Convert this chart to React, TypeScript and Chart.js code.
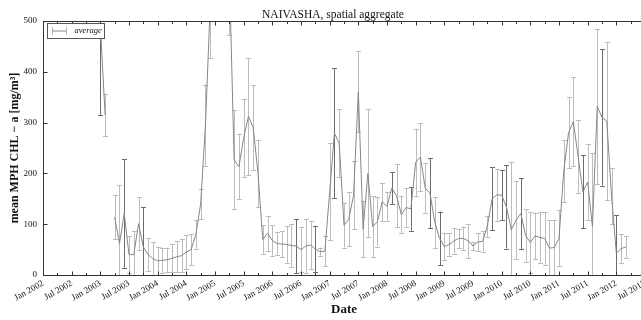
import { useEffect, useRef } from 'react';
import { Chart, registerables } from 'chart.js';

Chart.register(...registerables);

const FONT = '"Liberation Serif", "DejaVu Serif", "Times New Roman", serif';

// Monthly sample dates (one per month, Jan 2003 .. Mar 2012)
const sampleDates = [
  '2003-01', '2003-02', '2003-03', '2003-04', '2003-05', '2003-06', '2003-07', '2003-08', '2003-09', '2003-10', '2003-11', '2003-12',
  '2004-01', '2004-02', '2004-03', '2004-04', '2004-05', '2004-06', '2004-07', '2004-08', '2004-09', '2004-10', '2004-11', '2004-12',
  '2005-01', '2005-02', '2005-03', '2005-04', '2005-05', '2005-06', '2005-07', '2005-08', '2005-09', '2005-10', '2005-11', '2005-12',
  '2006-01', '2006-02', '2006-03', '2006-04', '2006-05', '2006-06', '2006-07', '2006-08', '2006-09', '2006-10', '2006-11', '2006-12',
  '2007-01', '2007-02', '2007-03', '2007-04', '2007-05', '2007-06', '2007-07', '2007-08', '2007-09', '2007-10', '2007-11', '2007-12',
  '2008-01', '2008-02', '2008-03', '2008-04', '2008-05', '2008-06', '2008-07', '2008-08', '2008-09', '2008-10', '2008-11', '2008-12',
  '2009-01', '2009-02', '2009-03', '2009-04', '2009-05', '2009-06', '2009-07', '2009-08', '2009-09', '2009-10', '2009-11', '2009-12',
  '2010-01', '2010-02', '2010-03', '2010-04', '2010-05', '2010-06', '2010-07', '2010-08', '2010-09', '2010-10', '2010-11', '2010-12',
  '2011-01', '2011-02', '2011-03', '2011-04', '2011-05', '2011-06', '2011-07', '2011-08', '2011-09', '2011-10', '2011-11', '2011-12',
  '2012-01', '2012-02', '2012-03',
];

// mean MPH CHL-a (mg/m^3), spatial average
const meanChl: (number | null)[] = [
  492, 315, null, 114, 62, 121, 40, 40, 101, 55, 40, 32,
  28, 29, 30, 33, 36, 38, 45, 50, 80, 140, 295, 530,
  650, 700, 620, 600, 227, 213, 270, 312, 290, 200, 70, 82,
  68, 62, 61, 60, 58, 57, 50, 57, 59, 51, 46, 47,
  164, 279, 259, 98, 110, 157, 361, 90, 200, 95, 105, 144,
  135, 171, 156, 119, 133, 130, 222, 232, 171, 161, 104, 72,
  56, 60, 67, 72, 72, 67, 57, 65, 66, 96, 150, 158,
  157, 134, 89, 108, 121, 78, 64, 77, 74, 72, 53, 54,
  72, 205, 280, 302, 233, 164, 183, 95, 332, 310, 303, 155,
  43, 52, 55,
];

// error (± standard deviation)
const chlErr: (number | null)[] = [
  177, 42, null, 44, 115, 107, 36, 46, 52, 79, 33, 33,
  28, 25, 24, 28, 30, 32, 33, 30, 28, 30, 80, 103,
  120, 120, 120, 128, 98, 64, 77, 115, 84, 66, 28, 35,
  30, 23, 26, 36, 43, 53, 44, 54, 48, 46, 8, 30,
  95, 128, 67, 44, 53, 67, 80, 55, 126, 60, 49, 37,
  28, 31, 62, 37, 38, 43, 66, 67, 49, 69, 50, 53,
  27, 22, 25, 18, 23, 33, 8, 18, 20, 21, 62, 51,
  49, 82, 134, 77, 70, 52, 60, 46, 50, 52, 55, 55,
  55, 61, 70, 88, 72, 72, 74, 145, 153, 134, 155, 55,
  75, 28, 21,
];

// error bars drawn in the darker shade
const darkBarDates = [
  '2003-01', '2003-06', '2003-10', '2006-06', '2006-10', '2007-02', '2008-02', '2008-06',
  '2008-10', '2008-12', '2009-11', '2010-01', '2010-02', '2010-05', '2011-06', '2011-10', '2012-01',
];

const tickLabels = [
  'Jan 2002', 'Jul 2002', 'Jan 2003', 'Jul 2003', 'Jan 2004', 'Jul 2004', 'Jan 2005', 'Jul 2005',
  'Jan 2006', 'Jul 2006', 'Jan 2007', 'Jul 2007', 'Jan 2008', 'Jul 2008', 'Jan 2009', 'Jul 2009',
  'Jan 2010', 'Jul 2010', 'Jan 2011', 'Jul 2011', 'Jan 2012', 'Jul 2012',
];

const yTicks = [0, 100, 200, 300, 400, 500];

const BASE_YEAR = 2002;
const toMonth = (d: string) => {
  const [y, m] = d.split('-').map(Number);
  return (y - BASE_YEAR) * 12 + (m - 1);
};

const X_MAX = (tickLabels.length - 1) * 6;
const xTickValues: number[] = [];
for (let v = 0; v <= X_MAX; v += 3) xTickValues.push(v);

const LINE_COLOR = '#868686';
const BAR_LIGHT = '#bcbcbc';
const BAR_DARK = '#6c6c6c';
const AXIS_COLOR = '#333333';
const TEXT_COLOR = '#111111';

const errorBarPlugin = {
  id: 'errorBars',
  beforeDatasetsDraw(chart: any) {
    const { ctx, chartArea: a, scales } = chart;
    const x = scales.x;
    const y = scales.y;
    ctx.save();
    ctx.beginPath();
    ctx.rect(a.left, a.top, a.right - a.left, a.bottom - a.top);
    ctx.clip();
    ctx.lineWidth = 1;
    sampleDates.forEach((d, i) => {
      const v = meanChl[i];
      const e = chlErr[i];
      if (v == null || e == null) return;
      const px = Math.round(x.getPixelForValue(toMonth(d))) + 0.5;
      const yt = y.getPixelForValue(v + e);
      const yb = y.getPixelForValue(v - e);
      ctx.strokeStyle = darkBarDates.includes(d) ? BAR_DARK : BAR_LIGHT;
      ctx.beginPath();
      ctx.moveTo(px, yt);
      ctx.lineTo(px, yb);
      ctx.moveTo(px - 2.5, Math.round(yt) + 0.5);
      ctx.lineTo(px + 2.5, Math.round(yt) + 0.5);
      ctx.moveTo(px - 2.5, Math.round(yb) + 0.5);
      ctx.lineTo(px + 2.5, Math.round(yb) + 0.5);
      ctx.stroke();
    });
    ctx.restore();
  },
};

const framePlugin = {
  id: 'frame',
  afterDraw(chart: any) {
    const { ctx, chartArea: a, scales } = chart;
    const x = scales.x;
    const y = scales.y;
    ctx.save();
    ctx.strokeStyle = AXIS_COLOR;
    ctx.lineWidth = 1;
    const L = Math.round(a.left) + 0.5;
    const R = Math.round(a.right) + 0.5;
    const T = Math.round(a.top) + 0.5;
    const B = Math.round(a.bottom) + 0.5;
    ctx.strokeRect(L, T, R - L, B - T);
    ctx.beginPath();
    x.ticks.forEach((t: any) => {
      const px = Math.round(x.getPixelForValue(t.value)) + 0.5;
      const len = t.value % 6 === 0 ? 4 : 2.5;
      ctx.moveTo(px, B);
      ctx.lineTo(px, B - len);
      ctx.moveTo(px, T);
      ctx.lineTo(px, T + len);
    });
    y.ticks.forEach((t: any) => {
      const py = Math.round(y.getPixelForValue(t.value)) + 0.5;
      ctx.moveTo(L, py);
      ctx.lineTo(L + 4, py);
      ctx.moveTo(R, py);
      ctx.lineTo(R - 4, py);
    });
    ctx.stroke();

    // title
    ctx.fillStyle = TEXT_COLOR;
    ctx.font = `11.5px ${FONT}`;
    ctx.textAlign = 'center';
    ctx.textBaseline = 'alphabetic';
    ctx.fillText('NAIVASHA, spatial aggregate', 333, 18);

    // legend
    const lx = L + 4;
    const ly = T + 2;
    const lw = 57;
    const lh = 15;
    ctx.fillStyle = '#ffffff';
    ctx.fillRect(lx, ly, lw, lh);
    ctx.strokeStyle = '#555555';
    ctx.strokeRect(lx, ly, lw, lh);
    const cy = ly + lh / 2;
    ctx.strokeStyle = BAR_LIGHT;
    ctx.beginPath();
    ctx.moveTo(lx + 5, cy - 4);
    ctx.lineTo(lx + 5, cy + 4);
    ctx.moveTo(lx + 19, cy - 4);
    ctx.lineTo(lx + 19, cy + 4);
    ctx.stroke();
    ctx.strokeStyle = LINE_COLOR;
    ctx.beginPath();
    ctx.moveTo(lx + 5, cy);
    ctx.lineTo(lx + 19, cy);
    ctx.stroke();
    ctx.fillStyle = TEXT_COLOR;
    ctx.font = `italic 8.5px ${FONT}`;
    ctx.textAlign = 'left';
    ctx.textBaseline = 'middle';
    ctx.fillText('average', lx + 27, cy);
    ctx.restore();
  },
};

export default function App() {
  const canvasRef = useRef<HTMLCanvasElement | null>(null);

  useEffect(() => {
    if (!canvasRef.current) return;
    const points = sampleDates.map((d, i) => ({ x: toMonth(d), y: meanChl[i] }));
    const chart = new Chart(canvasRef.current, {
      type: 'line',
      data: {
        datasets: [
          {
            label: 'average',
            data: points as any,
            borderColor: LINE_COLOR,
            borderWidth: 1,
            pointRadius: 0,
            tension: 0,
            spanGaps: false,
            fill: false,
          },
        ],
      },
      options: {
        animation: false,
        responsive: true,
        maintainAspectRatio: false,
        layout: { padding: { left: 0, right: 15, top: 21, bottom: 0 } },
        plugins: {
          legend: { display: false },
          title: { display: false },
          tooltip: { enabled: false },
        },
        scales: {
          x: {
            type: 'linear',
            min: 0,
            max: X_MAX,
            grid: { display: false, drawTicks: false },
            border: { display: false },
            afterBuildTicks: (s: any) => {
              s.ticks = xTickValues.map((v) => ({ value: v }));
            },
            afterFit: (s: any) => {
              s.height = 45;
            },
            ticks: {
              autoSkip: false,
              minRotation: 30,
              maxRotation: 30,
              padding: 3,
              color: TEXT_COLOR,
              font: { family: FONT, size: 9 },
              callback: (v: any) => (Number(v) % 6 === 0 ? tickLabels[Number(v) / 6] : ''),
            },
            title: {
              display: true,
              text: 'Date',
              color: TEXT_COLOR,
              font: { family: FONT, size: 13, weight: 'bold' },
              padding: { top: 0, bottom: 3 },
            },
          },
          y: {
            type: 'linear',
            min: 0,
            max: 500,
            grid: { display: false, drawTicks: false },
            border: { display: false },
            afterBuildTicks: (s: any) => {
              s.ticks = yTicks.map((v) => ({ value: v }));
            },
            afterFit: (s: any) => {
              s.width = 43;
            },
            ticks: {
              padding: 6,
              color: TEXT_COLOR,
              font: { family: FONT, size: 9 },
            },
            title: {
              display: true,
              text: 'mean MPH CHL − a [mg/m³]',
              color: TEXT_COLOR,
              font: { family: FONT, size: 12, weight: 'bold' },
              padding: { top: 8, bottom: 0 },
            },
          },
        },
      },
      plugins: [errorBarPlugin, framePlugin],
    });
    return () => chart.destroy();
  }, []);

  return (
    <div
      style={{
        position: 'fixed',
        left: 0,
        top: 0,
        width: 641,
        height: 320,
        overflow: 'hidden',
        background: '#ffffff',
      }}
    >
      <div style={{ position: 'relative', width: 660, height: 320 }}>
        <canvas ref={canvasRef} />
      </div>
    </div>
  );
}
